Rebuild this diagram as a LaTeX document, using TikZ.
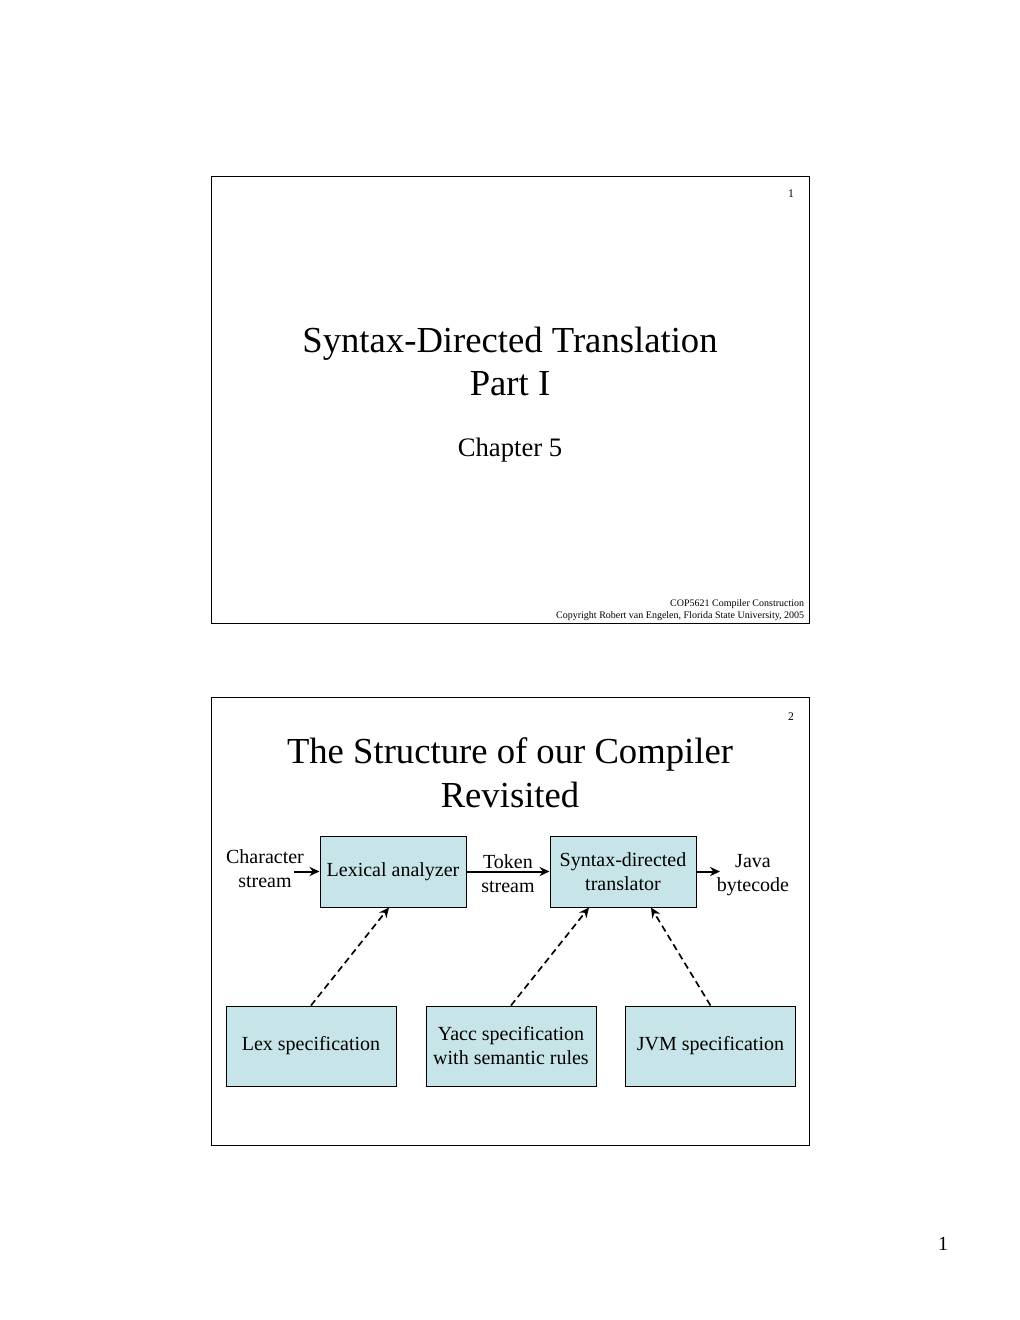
\documentclass[tikz,border=0pt]{standalone}
\usepackage{fontspec}
\setmainfont{Liberation Serif}
\usetikzlibrary{arrows.meta}
\definecolor{boxblue}{RGB}{199,229,232}

\tikzset{
	slide/.style={draw, line width=0.6pt},
	box/.style={draw, fill=boxblue, line width=0.6pt, align=center, inner sep=0pt,
		font=\fontsize{12}{14.4}\selectfont},
	lbl/.style={align=center, font=\fontsize{12}{14.4}\selectfont},
	dep/.style={->, line width=1pt, dash pattern=on 4pt off 2.5pt},
}

\begin{document}
\begin{tikzpicture}[x=0.6pt, y=-0.6pt, >={Stealth[length=6pt,width=5.5pt]}]
	\useasboundingbox (0,0) rectangle (1020,1320);
	
	% first slide
	\draw[slide] (211,176) rectangle (809,623);
	\node[font=\fontsize{7}{8}\selectfont] (N1) at (791,194) {1};
	\node[align=center, font=\fontsize{22}{25.8}\selectfont] (T1) at (510,361) {Syntax-Directed Translation\\Part I};
	\node[font=\fontsize{16}{19}\selectfont] (C) at (510,450) {Chapter 5};
	\node[anchor=east, align=right, font=\fontsize{6}{7.2}\selectfont] (F) at (810,610)
		{COP5621 Compiler Construction\\Copyright Robert van Engelen, Florida State University, 2005};
	
	% second slide
	\draw[slide] (211,697) rectangle (809,1145);
	\node[font=\fontsize{7}{8}\selectfont] (N2) at (791,717) {2};
	\node[align=center, font=\fontsize{22}{26.4}\selectfont] (T2) at (510,773) {The Structure of our Compiler\\Revisited};
	
	\node[box, minimum width=87.6pt, minimum height=42.6pt] (L) at (393,871.5) {Lexical analyzer};
	\node[box, minimum width=87.6pt, minimum height=42.6pt] (S) at (623,871.5) {Syntax-directed\\translator};
	\node[box, minimum width=102pt, minimum height=48pt] (X) at (311,1046) {Lex specification};
	\node[box, minimum width=102pt, minimum height=48pt] (Y) at (511,1046) {Yacc specification\\with semantic rules};
	\node[box, minimum width=102pt, minimum height=48pt] (J) at (710.5,1046) {JVM specification};
	
	\node[lbl] (CS) at (265,869) {Character\\stream};
	\node[lbl] (TS) at (508,874) {Token\\stream};
	\node[lbl] (JB) at (753,875) {Java\\bytecode};
	\coordinate (ci) at (294,871.5);
	\coordinate (jo) at (720,871.5);
	
	\draw[->, line width=1.2pt] (ci) -- (L);
	\draw[->, line width=1.2pt] (L) -- (S);
	\draw[->, line width=1.2pt] (S) -- (jo);
	
	\draw[dep] (X.north) -- ([xshift=-2.4pt]L.south);
	\draw[dep] (Y.north) -- ([xshift=-20.4pt]S.south);
	\draw[dep] (J.north) -- ([xshift=16.8pt]S.south);
	
	\node[font=\fontsize{12}{14}\selectfont] (P) at (943,1244) {1};
\end{tikzpicture}
\end{document}
